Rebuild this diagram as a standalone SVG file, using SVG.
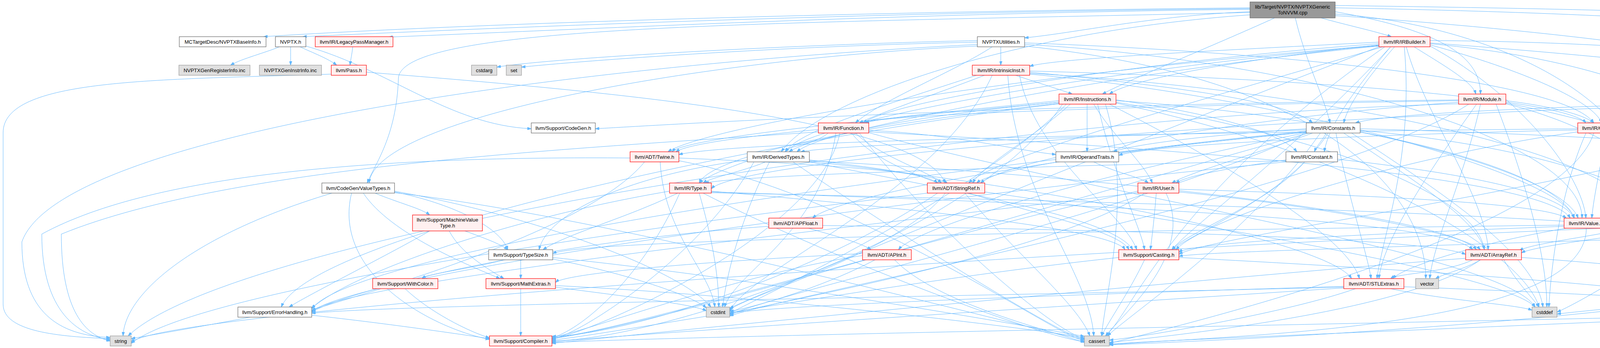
<svg xmlns="http://www.w3.org/2000/svg" width="5512" height="892" viewBox="0 0 5512 892">
<style>
#edges path{fill:none;stroke:#63B8FF;stroke-width:1;marker-end:url(#a)}
.node rect{stroke-width:1.2}
.w rect{fill:#FFFFFF;stroke:#666666}
.r rect{fill:#FFF0F0;stroke:#FF0000}
.g rect{fill:#E0E0E0;stroke:#999999}
.m rect{fill:#999999;stroke:#666666}
.node text{font-family:"Liberation Sans",Arial,sans-serif;font-size:13px;text-anchor:middle;fill:#000000}
</style>
<defs>
<marker id="a" viewBox="0 0 10 7" refX="10" refY="3.5" markerWidth="10" markerHeight="7" markerUnits="userSpaceOnUse" orient="auto">
<path d="M0,0 L10,3.5 L0,7 z" fill="#63B8FF" stroke="#63B8FF"/>
</marker>
</defs>
<rect width="5512" height="892" fill="#FFFFFF"/>
<g id="edges">
<!-- top -->
<path d="M3200,20 C2200,30 1200,60 675,94"/>
<path d="M3200,22 C2200,32 1300,70 775,94"/>
<path d="M3200,24 C2300,34 1500,75 995,95"/>
<path d="M3200,30 C2950,40 2750,85 2623,97"/>
<path d="M3200,32 C2000,60 1030,60 1020,200 C1015,350 960,420 940,469"/>
<path d="M3316,46 C3340,150 3390,250 3405,315"/>
<path d="M3200,38 C2600,80 2100,250 2000,389"/>
<path d="M3263,46 C3100,120 2900,200 2822,241"/>
<path d="M3382,46 C3450,65 3520,80 3562,94"/>
<path d="M3418,36 C3800,60 4240,250 4225,559"/>
<path d="M3418,30 C3700,80 3790,150 3790,241"/>
<path d="M3418,40 C4000,80 4600,150 4700,241"/>
<path d="M3418,14 C4500,30 5405,40 5405,300 C5405,500 5250,555 5162,565"/>
<path d="M3418,20 C4500,40 5295,100 5290,300 C5285,380 5180,430 5120,462"/>
<!-- NVPTX.h -->
<path d="M715,120 C680,135 620,150 590,167"/>
<path d="M744,120 C744,140 744,150 744,167"/>
<path d="M768,120 C800,135 840,150 862,167"/>
<path d="M783,118 C1000,180 1150,320 1360,330"/>
<!-- LegacyPassManager -->
<path d="M903,120 C901,140 898,150 896,167"/>
<!-- Pass.h -->
<path d="M848,190 C400,205 8,200 8,340 L8,780 C8,850 150,863 282,868"/>
<path d="M938,185 C1500,230 2350,300 2420,469"/>
<!-- NVPTXUtilities -->
<path d="M2562,120 C2562,140 2562,150 2562,167"/>
<path d="M2540,120 C2450,180 2250,260 2190,315"/>
<path d="M2623,110 C3200,130 4000,200 4080,315"/>
<path d="M2623,114 C3300,150 4050,350 4050,559"/>
<path d="M2502,104 C2000,115 1400,150 1272,172"/>
<path d="M2502,108 C2000,118 1500,155 1335,172"/>
<path d="M2502,114 C1400,170 150,350 56,620 C56,800 150,860 282,865"/>
<path d="M2623,118 C3400,200 3650,500 3650,714"/>
<path d="M2502,118 C1800,150 960,300 945,469"/>
<!-- IntrinsicInst -->
<path d="M2520,193 C2400,240 2250,290 2200,315"/>
<path d="M2500,193 C2300,260 2050,330 2010,389"/>
<path d="M2600,193 C2650,210 2700,225 2745,241"/>
<path d="M2636,185 C3000,220 3300,260 3360,315"/>
<path d="M2636,182 C3300,200 4000,250 4060,315"/>
<path d="M2636,188 C3400,230 4180,400 4190,559"/>
<path d="M2636,190 C3300,250 4000,450 4030,559"/>
<path d="M2610,193 C2650,400 2880,550 2910,640"/>
<path d="M2580,193 C2600,500 2790,700 2800,861"/>
<path d="M2540,193 C2400,500 1900,700 1868,800"/>
<!-- Instructions -->
<path d="M2783,267 C2783,320 2783,350 2783,389"/>
<path d="M2711,258 C2500,280 2260,300 2215,315"/>
<path d="M2711,262 C2400,290 2100,340 2040,389"/>
<path d="M2711,262 C2300,300 1760,350 1720,389"/>
<path d="M2740,267 C2650,350 2520,420 2490,469"/>
<path d="M2840,267 C3100,400 3450,600 3480,714"/>
<path d="M2857,262 C3400,350 3780,500 3800,640"/>
<path d="M2857,256 C3100,290 3280,340 3320,389"/>
<path d="M2711,265 C2200,320 1820,400 1790,469"/>
<path d="M2800,267 C2850,350 2930,420 2950,469"/>
<path d="M2857,258 C3500,300 4000,450 4040,559"/>
<path d="M2810,267 C2850,450 2920,580 2930,640"/>
<path d="M2711,266 C2000,350 800,600 720,787"/>
<path d="M2720,267 C2500,600 1700,870 1413,874"/>
<path d="M2830,267 C2900,500 2830,750 2820,861"/>
<path d="M2857,264 C3500,400 3900,650 3940,787"/>
<path d="M2730,267 C2500,500 1950,760 1868,803"/>
<!-- Function -->
<path d="M2120,341 C2100,360 2040,375 2020,389"/>
<path d="M2224,334 C2450,345 2600,385 2703,396"/>
<path d="M2095,332 C1900,350 1760,370 1730,389"/>
<path d="M2190,341 C2250,400 2380,440 2410,469"/>
<path d="M2224,338 C3000,380 3950,450 4020,559"/>
<path d="M2180,341 C2300,500 2850,560 2890,640"/>
<path d="M2150,341 C2100,600 1500,860 1413,868"/>
<path d="M2200,341 C2400,600 2700,850 2776,868"/>
<path d="M2224,340 C2800,500 3850,650 3930,787"/>
<path d="M2140,341 C2100,600 1880,700 1855,787"/>
<path d="M2095,338 C1500,380 600,420 157,600 C157,800 220,860 282,874"/>
<!-- DerivedTypes -->
<path d="M1960,415 C1900,440 1820,455 1800,469"/>
<path d="M2072,410 C2250,430 2380,450 2400,469"/>
<path d="M2072,412 C2800,450 3700,550 3780,640"/>
<path d="M2072,414 C2700,480 3400,620 3460,714"/>
<path d="M2072,415 C2500,500 2850,560 2900,640"/>
<path d="M1970,415 C1900,550 1860,700 1850,787"/>
<path d="M1913,410 C1600,450 1400,550 1380,640"/>
<path d="M2030,415 C2300,600 2700,850 2776,871"/>
<path d="M1930,415 C1800,650 1500,850 1413,870"/>
<!-- Twine -->
<path d="M1738,405 C2100,420 2380,440 2425,469"/>
<path d="M1650,415 C1500,600 900,760 798,795"/>
<path d="M1738,412 C2200,500 2700,860 2776,874"/>
<path d="M1690,415 C1700,600 1820,700 1830,787"/>
<path d="M1613,405 C1000,400 400,440 107,600 C107,800 200,860 282,871"/>
<!-- Type -->
<path d="M1735,495 C1600,560 1450,600 1390,640"/>
<path d="M1821,490 C2400,540 2850,590 2880,640"/>
<path d="M1821,492 C2700,520 3700,560 3770,640"/>
<path d="M1821,494 C3000,520 4500,560 4560,640"/>
<path d="M1740,495 C1650,700 1500,840 1413,866"/>
<path d="M1714,490 C1300,560 900,700 798,790"/>
<path d="M1800,495 C2100,650 2650,860 2776,876"/>
<path d="M1790,495 C1820,600 1840,700 1840,787"/>
<!-- StringRef -->
<path d="M2400,495 C2100,700 1600,860 1413,862"/>
<path d="M2470,495 C2600,650 2760,780 2790,861"/>
<path d="M2521,492 C3000,560 3850,700 3930,787"/>
<path d="M2374,495 C1500,600 500,750 336,880"/>
<path d="M2420,495 C2300,650 1900,760 1868,795"/>
<!-- APFloat -->
<path d="M2070,585 C2120,600 2200,620 2230,640"/>
<path d="M2106,578 C2900,590 3650,610 3752,652"/>
<path d="M1968,580 C1400,620 900,740 798,800"/>
<!-- APInt -->
<path d="M2208,655 C1900,700 1500,850 1413,865"/>
<path d="M2208,650 C1800,670 1450,700 1422,724"/>
<path d="M2290,666 C2400,780 2700,850 2776,878"/>
<path d="M2240,666 C2100,740 1920,790 1868,798"/>
<!-- User -->
<path d="M3018,485 C3500,500 3950,520 4010,559"/>
<path d="M2960,495 C2955,560 2950,600 2945,640"/>
<path d="M3018,492 C3400,530 3750,600 3790,640"/>
<path d="M2913,490 C2400,600 1600,850 1413,866"/>
<path d="M2913,494 C2200,580 900,720 798,797"/>
<path d="M2985,495 C3060,650 2880,800 2830,861"/>
<path d="M2930,495 C2700,650 1950,780 1868,805"/>
<!-- Constants -->
<path d="M3395,341 C3385,360 3370,375 3365,389"/>
<path d="M3344,338 C2700,400 2150,500 2080,559"/>
<path d="M3344,340 C2800,450 2350,580 2300,640"/>
<path d="M3440,341 C3600,450 3780,560 3800,640"/>
<path d="M3420,341 C3450,500 3500,650 3510,714"/>
<path d="M3482,330 C4600,360 5455,450 5455,650 C5455,800 5350,855 5275,868"/>
<path d="M3482,334 C4200,400 4450,600 4480,787"/>
<path d="M3344,336 C2900,380 2550,430 2500,469"/>
<path d="M3344,333 C2800,350 2150,370 2050,389"/>
<path d="M3344,330 C3100,345 2900,370 2850,389"/>
<path d="M3360,341 C3200,400 3050,440 3000,469"/>
<path d="M3482,338 C3800,400 4000,480 4030,559"/>
<path d="M3400,341 C3300,500 3050,600 3000,640"/>
<path d="M3350,341 C2600,550 1700,830 1413,868"/>
<path d="M3344,339 C2200,450 900,650 798,792"/>
<path d="M3380,341 C3200,600 2900,800 2835,861"/>
<path d="M3460,341 C3700,500 3930,650 3950,787"/>
<path d="M3344,341 C2900,550 1950,760 1868,808"/>
<!-- Constant -->
<path d="M3292,410 C3150,430 3040,450 3010,469"/>
<path d="M3424,408 C3800,450 4000,500 4030,559"/>
<path d="M3340,415 C3250,520 3030,600 3000,640"/>
<path d="M3292,415 C2400,500 900,700 798,800"/>
<path d="M3292,412 C2500,430 1900,450 1805,469"/>
<!-- OperandTraits -->
<path d="M2800,415 C2850,440 2920,455 2940,469"/>
<!-- Casting -->
<path d="M3018,660 C3800,700 4400,750 4460,787"/>
<path d="M2864,660 C2300,720 1600,850 1413,872"/>
<path d="M2930,666 C2890,750 2840,820 2820,861"/>
<!-- STLExtras -->
<path d="M3594,735 C4000,750 4400,770 4460,787"/>
<path d="M3440,738 C2800,780 1700,850 1413,876"/>
<path d="M3440,736 C2500,760 1000,780 798,803"/>
<path d="M3470,740 C3300,800 2950,860 2840,872"/>
<path d="M3560,740 C3700,770 3880,780 3922,795"/>
<path d="M3440,734 C2900,750 2000,780 1868,803"/>
<!-- ArrayRef -->
<path d="M3790,666 C3750,690 3700,700 3675,714"/>
<path d="M3770,666 C3700,700 3580,700 3560,714"/>
<path d="M3895,660 C4500,700 5000,800 5165,861"/>
<path d="M3752,662 C3000,720 1700,850 1413,880"/>
<path d="M3790,666 C3600,800 3000,860 2840,878"/>
<path d="M3850,666 C3880,720 3920,760 3940,787"/>
<!-- Value -->
<path d="M4115,578 C4300,600 4480,630 4541,650"/>
<path d="M4010,585 C3800,620 3600,680 3565,714"/>
<path d="M4004,580 C3500,600 3050,620 3018,647"/>
<path d="M4061,585 C4061,850 3100,860 2840,884"/>
<!-- Intrinsics -->
<path d="M4170,585 C4050,610 3920,625 3890,642"/>
<path d="M4250,585 C4350,650 4480,730 4500,787"/>
<path d="M4230,585 C4400,750 5000,850 5151,870"/>
<path d="M4154,575 C3000,590 1500,610 1415,650"/>
<path d="M4154,583 C2500,650 400,800 336,878"/>
<!-- Module -->
<path d="M3734,258 C3000,270 2300,290 2200,315"/>
<path d="M3855,258 C3950,270 4050,290 4080,315"/>
<path d="M3780,267 C3650,450 3540,620 3530,714"/>
<path d="M3734,262 C3200,300 2600,400 2510,469"/>
<path d="M3855,264 C4300,350 4580,500 4590,640"/>
<path d="M3734,256 C2500,270 1700,320 1524,330"/>
<path d="M3830,267 C3900,450 3960,650 3960,787"/>
<path d="M3760,267 C3400,500 2000,760 1868,810"/>
<path d="M3734,266 C2500,300 600,600 328,861"/>
<path d="M3790,267 C3750,450 3670,620 3660,714"/>
<path d="M3855,266 C4200,350 4480,600 4495,787"/>
<!-- GlobalVariable -->
<path d="M4039,330 C3000,340 1900,360 1738,396"/>
<path d="M4039,333 C3500,345 2950,370 2864,398"/>
<path d="M4110,341 C4100,420 4080,500 4075,559"/>
<path d="M4039,338 C3600,400 3100,550 3010,640"/>
<path d="M4080,341 C4000,600 3000,840 2840,880"/>
<path d="M4060,341 C3990,500 3970,700 3965,787"/>
<!-- Operator -->
<path d="M4664,258 C4000,270 3550,290 3470,315"/>
<path d="M4664,262 C3500,280 1900,400 1821,484"/>
<path d="M4700,267 C4500,400 4150,500 4100,559"/>
<path d="M4680,267 C4300,450 3100,600 3018,652"/>
<path d="M4791,255 C5100,280 5353,400 5353,650 C5353,800 5300,850 5260,861"/>
<path d="M4720,267 C4680,500 4550,700 4530,787"/>
<path d="M4700,267 C4500,500 4100,750 3986,800"/>
<!-- IRBuilder -->
<path d="M3530,115 C3200,150 2900,200 2840,241"/>
<path d="M3530,108 C3100,130 2700,150 2636,170"/>
<path d="M3530,112 C3000,150 2300,250 2210,315"/>
<path d="M3530,117 C2900,170 2100,300 2010,389"/>
<path d="M3570,120 C3500,200 3450,270 3440,315"/>
<path d="M3560,120 C3450,250 3400,330 3390,389"/>
<path d="M3620,120 C3700,170 3770,210 3778,241"/>
<path d="M3661,115 C3900,180 4080,260 4100,315"/>
<path d="M3661,110 C4200,150 4650,200 4690,241"/>
<path d="M3661,118 C3900,250 4050,450 4060,559"/>
<path d="M3530,118 C2700,200 1900,380 1790,469"/>
<path d="M3530,116 C2500,200 1800,330 1710,389"/>
<path d="M3540,120 C3100,250 2550,400 2480,469"/>
<path d="M3595,120 C3620,400 3540,600 3525,714"/>
<path d="M3600,120 C3650,300 3800,500 3810,640"/>
<path d="M3661,112 C4400,180 4600,450 4605,640"/>
<path d="M3661,104 C4800,110 5504,300 5504,600 C5504,800 5400,860 5275,874"/>
<path d="M3560,120 C3300,400 3050,580 3000,640"/>
<path d="M3545,120 C3000,500 2900,800 2830,861"/>
<path d="M3530,120 C2800,400 1950,750 1868,790"/>
<!-- ValueMap -->
<path d="M5110,585 C5150,700 5190,800 5200,861"/>
<path d="M5060,585 C4900,700 4600,760 4573,795"/>
<path d="M5026,578 C4200,620 3100,640 3018,657"/>
<path d="M5050,585 C4800,800 3200,870 2840,884"/>
<path d="M5040,585 C4700,750 4100,790 3986,805"/>
<!-- ValueMapper -->
<path d="M5092,503 C5093,525 5094,540 5094,559"/>
<path d="M5019,495 C4500,560 3950,620 3895,648"/>
<!-- Optional -->
<path d="M4573,805 C4800,830 5050,860 5151,872"/>
<path d="M4434,808 C3500,830 1800,860 1413,878"/>
<path d="M4434,810 C3800,840 3000,870 2840,882"/>
<!-- TypeSize -->
<path d="M1333,666 C1333,685 1333,700 1333,714"/>
<path d="M1290,666 C1200,690 1100,700 1080,714"/>
<path d="M1415,660 C2000,720 2700,850 2776,862"/>
<path d="M1415,664 C1600,700 1780,760 1808,790"/>
<!-- MathExtras -->
<path d="M1333,740 C1333,790 1333,830 1333,861"/>
<path d="M1422,732 C2000,760 2700,850 2776,866"/>
<path d="M1422,736 C1600,760 1780,780 1808,797"/>
<!-- MachineValueType -->
<path d="M1100,592 C1000,650 800,750 740,787"/>
<path d="M1150,592 C1180,650 1250,690 1290,714"/>
<path d="M1190,592 C1240,610 1280,625 1300,640"/>
<!-- WithColor -->
<path d="M1037,740 C1100,800 1200,850 1253,866"/>
<!-- CodeGen/ValueTypes -->
<path d="M960,495 C1020,520 1080,535 1100,551"/>
<path d="M1010,492 C1150,520 1280,580 1300,640"/>
<path d="M930,495 C1000,600 1200,680 1280,714"/>
<path d="M900,495 C850,700 1100,840 1253,870"/>
<path d="M1010,494 C1600,560 2650,850 2776,870"/>
<path d="M1010,490 C1400,560 1750,700 1820,787"/>
<path d="M850,495 C500,600 320,750 315,861"/>
<!-- ErrorHandling -->
<path d="M798,808 C1000,830 1200,860 1253,868"/>
<path d="M640,813 C500,840 380,860 336,868"/>
</g>
<g id="nodes">
<g id="node-top" class="node m"><rect x="3200" y="5" width="218" height="41"/><text x="3309" y="22">lib/Target/NVPTX/NVPTXGeneric</text><text x="3309" y="37">ToNVVM.cpp</text></g>
<g id="node-baseinfo" class="node w"><rect x="459" y="94" width="222" height="26"/><text x="570" y="111.5">MCTargetDesc/NVPTXBaseInfo.h</text></g>
<g id="node-nvptx" class="node w"><rect x="705" y="94" width="78" height="26"/><text x="744" y="111.5">NVPTX.h</text></g>
<g id="node-lpm" class="node r"><rect x="807" y="94" width="199" height="26"/><text x="906.5" y="111.5">llvm/IR/LegacyPassManager.h</text></g>
<g id="node-util" class="node w"><rect x="2502" y="94" width="121" height="26"/><text x="2562.5" y="111.5">NVPTXUtilities.h</text></g>
<g id="node-irb" class="node r"><rect x="3530" y="94" width="131" height="26"/><text x="3595.5" y="111.5">llvm/IR/IRBuilder.h</text></g>
<g id="node-reginc" class="node g"><rect x="458" y="167" width="182" height="26"/><text x="549" y="184.5">NVPTXGenRegisterInfo.inc</text></g>
<g id="node-instrinc" class="node g"><rect x="664" y="167" width="159" height="26"/><text x="743.5" y="184.5">NVPTXGenInstrInfo.inc</text></g>
<g id="node-pass" class="node r"><rect x="848" y="167" width="90" height="26"/><text x="893" y="184.5">llvm/Pass.h</text></g>
<g id="node-cstdarg" class="node g"><rect x="1207" y="167" width="65" height="26"/><text x="1239.5" y="184.5">cstdarg</text></g>
<g id="node-set" class="node g"><rect x="1296" y="167" width="39" height="26"/><text x="1315.5" y="184.5">set</text></g>
<g id="node-ii" class="node r"><rect x="2489" y="167" width="147" height="26"/><text x="2562.5" y="184.5">llvm/IR/IntrinsicInst.h</text></g>
<g id="node-insts" class="node r"><rect x="2711" y="241" width="146" height="26"/><text x="2784" y="258.5">llvm/IR/Instructions.h</text></g>
<g id="node-mod" class="node r"><rect x="3734" y="241" width="121" height="26"/><text x="3794.5" y="258.5">llvm/IR/Module.h</text></g>
<g id="node-op" class="node r"><rect x="4664" y="241" width="127" height="26"/><text x="4727.5" y="258.5">llvm/IR/Operator.h</text></g>
<g id="node-cg" class="node w"><rect x="1360" y="315" width="164" height="26"/><text x="1442" y="332.5">llvm/Support/CodeGen.h</text></g>
<g id="node-func" class="node r"><rect x="2095" y="315" width="129" height="26"/><text x="2159.5" y="332.5">llvm/IR/Function.h</text></g>
<g id="node-consts" class="node w"><rect x="3344" y="315" width="138" height="26"/><text x="3413" y="332.5">llvm/IR/Constants.h</text></g>
<g id="node-gv" class="node r"><rect x="4039" y="315" width="161" height="26"/><text x="4119.5" y="332.5">llvm/IR/GlobalVariable.h</text></g>
<g id="node-twine" class="node r"><rect x="1613" y="389" width="125" height="26"/><text x="1675.5" y="406.5">llvm/ADT/Twine.h</text></g>
<g id="node-dt" class="node w"><rect x="1913" y="389" width="159" height="26"/><text x="1992.5" y="406.5">llvm/IR/DerivedTypes.h</text></g>
<g id="node-ot" class="node w"><rect x="2703" y="389" width="161" height="26"/><text x="2783.5" y="406.5">llvm/IR/OperandTraits.h</text></g>
<g id="node-const" class="node w"><rect x="3292" y="389" width="132" height="26"/><text x="3358" y="406.5">llvm/IR/Constant.h</text></g>
<g id="node-vt" class="node w"><rect x="824" y="469" width="186" height="26"/><text x="917" y="486.5">llvm/CodeGen/ValueTypes.h</text></g>
<g id="node-type" class="node r"><rect x="1714" y="469" width="107" height="26"/><text x="1767.5" y="486.5">llvm/IR/Type.h</text></g>
<g id="node-sr" class="node r"><rect x="2374" y="469" width="147" height="26"/><text x="2447.5" y="486.5">llvm/ADT/StringRef.h</text></g>
<g id="node-user" class="node r"><rect x="2913" y="469" width="105" height="26"/><text x="2965.5" y="486.5">llvm/IR/User.h</text></g>
<g id="node-vmr" class="node r"><rect x="5019" y="462" width="146" height="41"/><text x="5092" y="479">llvm/Transforms/Utils</text><text x="5092" y="494">/ValueMapper.h</text></g>
<g id="node-mvt" class="node r"><rect x="1056" y="551" width="179" height="41"/><text x="1145.5" y="568">llvm/Support/MachineValue</text><text x="1145.5" y="583">Type.h</text></g>
<g id="node-apf" class="node r"><rect x="1968" y="559" width="138" height="26"/><text x="2037" y="576.5">llvm/ADT/APFloat.h</text></g>
<g id="node-val" class="node r"><rect x="4004" y="559" width="111" height="26"/><text x="4059.5" y="576.5">llvm/IR/Value.h</text></g>
<g id="node-intr" class="node r"><rect x="4154" y="559" width="131" height="26"/><text x="4219.5" y="576.5">llvm/IR/Intrinsics.h</text></g>
<g id="node-vm" class="node r"><rect x="5026" y="559" width="136" height="26"/><text x="5094" y="576.5">llvm/IR/ValueMap.h</text></g>
<g id="node-ts" class="node w"><rect x="1251" y="640" width="164" height="26"/><text x="1333" y="657.5">llvm/Support/TypeSize.h</text></g>
<g id="node-api" class="node r"><rect x="2208" y="640" width="125" height="26"/><text x="2270.5" y="657.5">llvm/ADT/APInt.h</text></g>
<g id="node-cast" class="node r"><rect x="2864" y="640" width="154" height="26"/><text x="2941" y="657.5">llvm/Support/Casting.h</text></g>
<g id="node-ar" class="node r"><rect x="3752" y="640" width="143" height="26"/><text x="3823.5" y="657.5">llvm/ADT/ArrayRef.h</text></g>
<g id="node-ctypes" class="node r"><rect x="4541" y="640" width="107" height="26"/><text x="4594.5" y="657.5">llvm-c/Types.h</text></g>
<g id="node-wc" class="node r"><rect x="954" y="714" width="167" height="26"/><text x="1037.5" y="731.5">llvm/Support/WithColor.h</text></g>
<g id="node-me" class="node r"><rect x="1244" y="714" width="178" height="26"/><text x="1333" y="731.5">llvm/Support/MathExtras.h</text></g>
<g id="node-stl" class="node r"><rect x="3440" y="714" width="154" height="26"/><text x="3517" y="731.5">llvm/ADT/STLExtras.h</text></g>
<g id="node-vector" class="node g"><rect x="3624" y="714" width="59" height="26"/><text x="3653.5" y="731.5">vector</text></g>
<g id="node-err" class="node w"><rect x="609" y="787" width="189" height="26"/><text x="703.5" y="804.5">llvm/Support/ErrorHandling.h</text></g>
<g id="node-cstdint" class="node g"><rect x="1808" y="787" width="60" height="26"/><text x="1838" y="804.5">cstdint</text></g>
<g id="node-cstddef" class="node g"><rect x="3922" y="787" width="64" height="26"/><text x="3954" y="804.5">cstddef</text></g>
<g id="node-opt" class="node r"><rect x="4434" y="787" width="139" height="26"/><text x="4503.5" y="804.5">llvm/ADT/Optional.h</text></g>
<g id="node-string" class="node g"><rect x="282" y="861" width="54" height="26"/><text x="309" y="878.5">string</text></g>
<g id="node-comp" class="node r"><rect x="1253" y="861" width="160" height="26"/><text x="1333" y="878.5">llvm/Support/Compiler.h</text></g>
<g id="node-cassert" class="node g"><rect x="2776" y="861" width="64" height="26"/><text x="2808" y="878.5">cassert</text></g>
<g id="node-none" class="node w"><rect x="5151" y="861" width="124" height="26"/><text x="5213" y="878.5">llvm/ADT/None.h</text></g>
</g>
</svg>
